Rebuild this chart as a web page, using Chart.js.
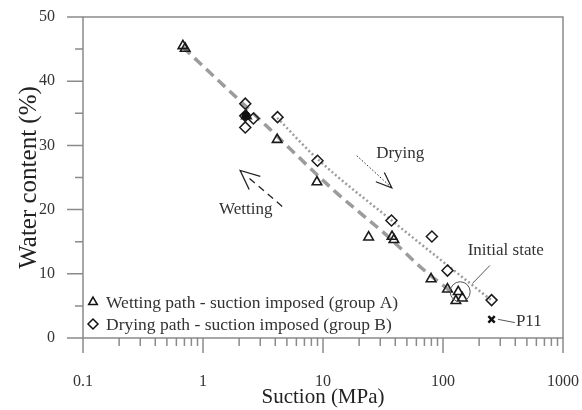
<!DOCTYPE html>
<html>
<head>
<meta charset="utf-8">
<script src="https://cdn.jsdelivr.net/npm/chart.js@4.4.1/dist/chart.umd.min.js"></script>
<style>
  html, body { margin: 0; padding: 0; background: #fff; }
  #wrap { width: 582px; height: 410px; }
</style>
</head>
<body>
<div id="wrap"><canvas id="chart" width="582" height="410"></canvas></div>
<script>
// suction (MPa) and water content (%)
const wettingSuction = [0.68, 0.71, 2.3, 4.15, 8.9, 24, 37.6, 39, 79.5, 109, 134, 128, 145];
const wettingWater   = [45.5, 45.1, 34.6, 30.9, 24.3, 15.7, 15.8, 15.3, 9.2, 7.6, 7.2, 5.8, 6.2];
const dryingSuction  = [2.25, 2.25, 2.25, 2.63, 4.18, 9.0, 37.2, 80.8, 109, 254];
const dryingWater    = [36.5, 34.6, 32.8, 34.2, 34.4, 27.6, 18.3, 15.8, 10.5, 5.9];
const p11Suction = [254];
const p11Water   = [2.9];
const darkSuction = [2.28];
const darkWater   = [34.6];

// trend curves
const wetCurveSuction = [0.68, 3.35, 12.3, 35.3, 66.3, 124.5];
const wetCurveWater   = [45.3, 33.1, 23.0, 15.7, 10.9, 6.8];
const dryCurveSuction = [4.15, 8.92, 37.4, 252];
const dryCurveWater   = [34.3, 27.95, 18.3, 5.9];

const xTicks = [0.1, 1, 10, 100, 1000];
const xTickLabels = ['0.1', '1', '10', '100', '1000'];
const yTicks = [0, 10, 20, 30, 40, 50];
const legendLabels = ['Wetting path - suction imposed (group A)', 'Drying path - suction imposed (group B)'];

const serif = "'Liberation Serif', 'Times New Roman', serif";
const toPts = (xs, ys) => xs.map((v, i) => ({x: v, y: ys[i]}));

// annotations, in data units
const notes = [
  {text: 'Drying', x: 44, y: 28.8, align: 'center'},
  {text: 'Wetting', x: 2.27, y: 20.0, align: 'center'},
  {text: 'Initial state', x: 333, y: 13.7, align: 'center'},
  {text: 'P11', x: 405, y: 2.5, align: 'left'}
];
const dryArrow = {from: {x: 19.1, y: 28.4}, tip: {x: 37.4, y: 23.4}};
const wetArrow = {from: {x: 4.57, y: 20.5}, tip: {x: 2.04, y: 26.1}};
const initCircle = {x: 139, y: 7.2};
const initLeader = [{x: 176, y: 8.5}, {x: 246, y: 11.3}];
const p11Leader = [{x: 288, y: 2.9}, {x: 397, y: 2.4}];

function arrowHead(ctx, tip, from, len, half) {
  const ang = Math.atan2(from.y - tip.y, from.x - tip.x);
  ctx.beginPath();
  ctx.moveTo(tip.x + len * Math.cos(ang + half), tip.y + len * Math.sin(ang + half));
  ctx.lineTo(tip.x, tip.y);
  ctx.lineTo(tip.x + len * Math.cos(ang - half), tip.y + len * Math.sin(ang - half));
  ctx.stroke();
}

// stop the tick padding from shrinking the plot area
function noEdgePad(s) {
  s.paddingLeft = 0; s.paddingRight = 0; s.paddingTop = 0; s.paddingBottom = 0;
}

const axisFrame = {
  id: 'axisFrame',
  beforeDatasetsDraw(chart) {
    const {ctx, chartArea: a, scales: {x, y}} = chart;
    ctx.save();
    ctx.strokeStyle = '#8a8a8a';
    ctx.lineWidth = 1.5;
    ctx.strokeRect(a.left, a.top, a.right - a.left, a.bottom - a.top);
    ctx.beginPath();
    for (let e = -1; e <= 3; e++) {
      for (let k = 1; k <= 9; k++) {
        const v = k * Math.pow(10, e);
        if (v > 1000.001) break;
        const px = x.getPixelForValue(v);
        const len = k === 1 ? 15 : 8;
        ctx.moveTo(px, a.bottom);
        ctx.lineTo(px, a.bottom + len);
      }
    }
    for (let v = 0; v <= 50; v += 5) {
      const py = y.getPixelForValue(v);
      const len = v % 10 === 0 ? 16 : 8;
      ctx.moveTo(a.left - len, py);
      ctx.lineTo(a.left, py);
    }
    ctx.stroke();
    ctx.restore();
  }
};

const extras = {
  id: 'extras',
  afterDatasetsDraw(chart) {
    const {ctx, chartArea: a, scales: {x, y}} = chart;
    const P = p => ({x: x.getPixelForValue(p.x), y: y.getPixelForValue(p.y)});
    ctx.save();

    // text notes
    ctx.fillStyle = '#333';
    ctx.font = '17px ' + serif;
    ctx.textBaseline = 'middle';
    notes.forEach(n => {
      const p = P(n);
      ctx.textAlign = n.align;
      ctx.fillText(n.text, p.x, p.y);
    });

    // drying arrow (dotted)
    ctx.strokeStyle = '#222';
    ctx.lineWidth = 1;
    let f = P(dryArrow.from), t = P(dryArrow.tip);
    ctx.setLineDash([1.5, 2]);
    ctx.beginPath(); ctx.moveTo(f.x, f.y); ctx.lineTo(t.x, t.y); ctx.stroke();
    ctx.setLineDash([]);
    ctx.lineWidth = 1.3;
    arrowHead(ctx, t, f, 17, 0.38);

    // wetting arrow (dashed)
    f = P(wetArrow.from); t = P(wetArrow.tip);
    ctx.lineWidth = 1.3;
    ctx.setLineDash([7, 5]);
    const k = 0.15;
    ctx.beginPath(); ctx.moveTo(f.x, f.y); ctx.lineTo(t.x + (f.x - t.x) * k, t.y + (f.y - t.y) * k); ctx.stroke();
    ctx.setLineDash([]);
    arrowHead(ctx, t, f, 21, 0.42);

    // initial state circle + leaders
    ctx.strokeStyle = '#555';
    ctx.lineWidth = 1;
    const c = P(initCircle);
    ctx.beginPath(); ctx.arc(c.x, c.y, 10, 0, Math.PI * 2); ctx.stroke();
    [initLeader, p11Leader].forEach(l => {
      const p0 = P(l[0]), p1 = P(l[1]);
      ctx.beginPath(); ctx.moveTo(p0.x, p0.y); ctx.lineTo(p1.x, p1.y); ctx.stroke();
    });

    // legend
    const lx = a.left + 10;
    const ly = [a.bottom - 36, a.bottom - 14];
    ctx.strokeStyle = '#111';
    ctx.lineWidth = 1.5;
    let r = 5;
    ctx.beginPath();
    ctx.moveTo(lx, ly[0] - r);
    ctx.lineTo(lx + r * Math.sin(2 * Math.PI / 3), ly[0] - r * Math.cos(2 * Math.PI / 3));
    ctx.lineTo(lx + r * Math.sin(4 * Math.PI / 3), ly[0] - r * Math.cos(4 * Math.PI / 3));
    ctx.closePath();
    ctx.stroke();
    ctx.beginPath();
    ctx.moveTo(lx - r, ly[1]); ctx.lineTo(lx, ly[1] - r); ctx.lineTo(lx + r, ly[1]); ctx.lineTo(lx, ly[1] + r);
    ctx.closePath();
    ctx.stroke();
    ctx.fillStyle = '#333';
    ctx.font = '17.5px ' + serif;
    ctx.textAlign = 'left';
    legendLabels.forEach((s, i) => ctx.fillText(s, lx + 13, ly[i] + 1));

    ctx.restore();
  }
};

const clear = 'rgba(0,0,0,0)';
new Chart(document.getElementById('chart'), {
  type: 'scatter',
  data: {
    datasets: [
      {label: 'P11', data: toPts(p11Suction, p11Water), pointStyle: 'crossRot', pointRadius: 4.5,
        borderColor: '#111', borderWidth: 2.5, backgroundColor: clear},
      {label: 'dark', data: toPts(darkSuction, darkWater), pointStyle: 'circle', pointRadius: 4,
        borderColor: '#111', borderWidth: 1, backgroundColor: '#111'},
      {label: legendLabels[0], data: toPts(wettingSuction, wettingWater), pointStyle: 'triangle',
        pointRadius: 5.5, borderColor: '#1a1a1a', borderWidth: 1.6, backgroundColor: clear},
      {label: legendLabels[1], data: toPts(dryingSuction, dryingWater), pointStyle: 'rectRot',
        pointRadius: 5.5, borderColor: '#1a1a1a', borderWidth: 1.5, backgroundColor: clear},
      {label: 'wet curve', data: toPts(wetCurveSuction, wetCurveWater), showLine: true, pointRadius: 0,
        borderColor: '#9c9c9c', borderWidth: 3.5, borderDash: [10, 6], cubicInterpolationMode: 'monotone'},
      {label: 'dry curve', data: toPts(dryCurveSuction, dryCurveWater), showLine: true, pointRadius: 0,
        borderColor: '#9c9c9c', borderWidth: 2.5, borderDash: [2, 2.5], cubicInterpolationMode: 'monotone'}
    ]
  },
  options: {
    responsive: false,
    animation: false,
    layout: {padding: {top: 17, right: 19, left: 0, bottom: 0}},
    plugins: {legend: {display: false}, tooltip: {enabled: false}},
    scales: {
      x: {
        type: 'logarithmic', min: 0.1, max: 1000,
        afterBuildTicks: s => { s.ticks = xTicks.map(v => ({value: v})); },
        afterFit: s => { s.height = 72; noEdgePad(s); },
        grid: {display: false, drawTicks: false},
        border: {display: false},
        ticks: {
          autoSkip: false, maxRotation: 0, padding: 34, color: '#333',
          font: {family: serif, size: 16},
          callback: v => xTickLabels[xTicks.indexOf(v)] ?? ''
        },
        title: {display: true, text: 'Suction (MPa)', color: '#222',
          font: {family: serif, size: 21}, padding: {top: 0, bottom: 0}}
      },
      y: {
        min: 0, max: 50,
        afterBuildTicks: s => { s.ticks = yTicks.map(v => ({value: v})); },
        afterFit: s => { s.width = 83; noEdgePad(s); },
        grid: {display: false, drawTicks: false},
        border: {display: false},
        ticks: {padding: 28, color: '#333', font: {family: serif, size: 16}},
        title: {display: true, text: 'Water content (%)', color: '#222',
          font: {family: serif, size: 25}, padding: {top: 14, bottom: 0}}
      }
    }
  },
  plugins: [axisFrame, extras]
});
</script>
</body>
</html>
